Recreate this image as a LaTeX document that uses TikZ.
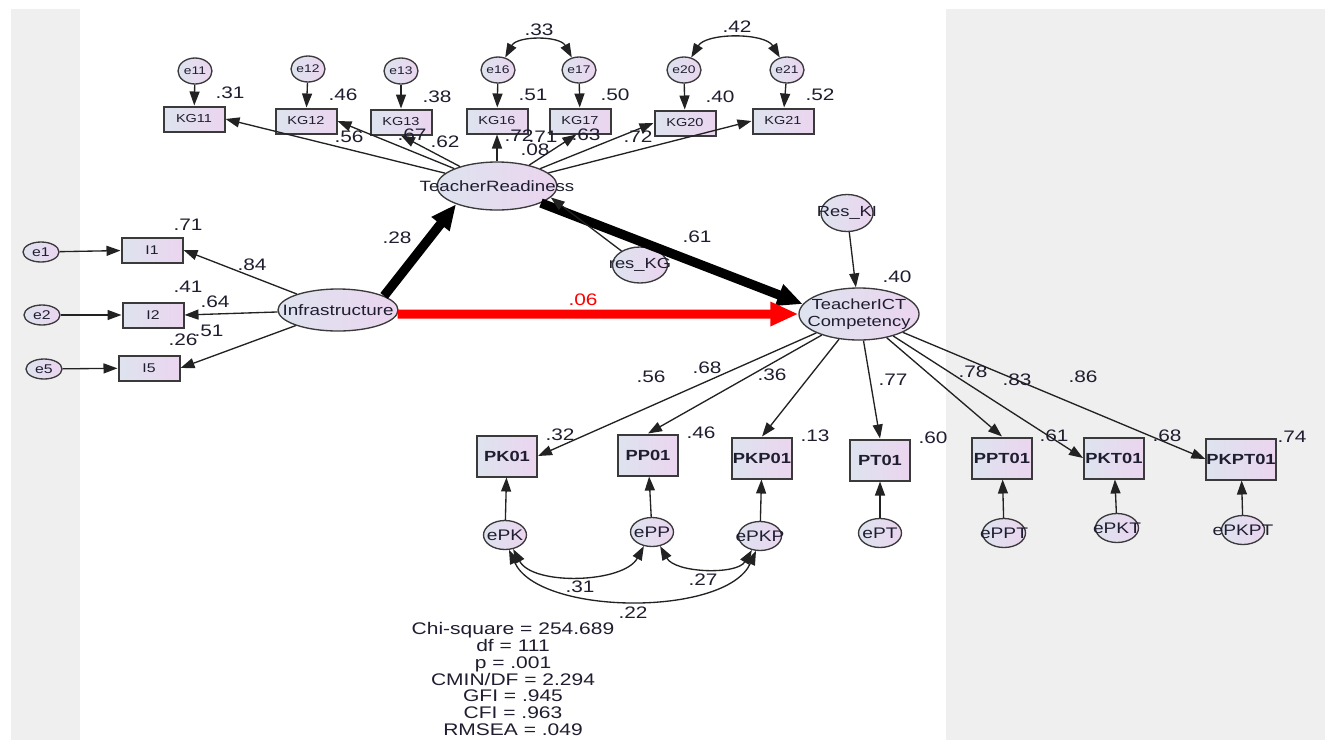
\documentclass[tikz,border=0pt]{standalone}
\usepackage{fontspec}
\setmainfont{Liberation Sans}[FakeStretch=1.25]
\usetikzlibrary{arrows.meta,shapes.geometric}
\definecolor{bgg}{HTML}{EFEFEF}
\definecolor{fillA}{HTML}{DEE3EF}
\definecolor{fillB}{HTML}{EBD5EF}
\definecolor{edgec}{HTML}{3A3A3A}
\definecolor{txt}{HTML}{1E1E30}
\definecolor{ared}{HTML}{FF0000}
\definecolor{linec}{HTML}{222222}
\begin{document}
\begin{tikzpicture}[x=0.75pt,y=-0.75pt,
  obs/.style={draw=edgec,line width=1.5pt,left color=fillA,right color=fillB,rectangle,inner sep=0pt,
    minimum width=45.75pt,minimum height=18.75pt,font=\fontsize{8.7}{9}\selectfont,text=txt},
  obsb/.style={obs,minimum width=45pt,minimum height=30.75pt,font=\fontsize{11}{12}\selectfont\bfseries},
  lat/.style={draw=edgec,line width=1pt,left color=fillA,right color=fillB,ellipse,inner sep=0pt},
  lbl/.style={text=txt,inner sep=0pt},
  etop/.style={lat,minimum width=25.5pt,minimum height=19.5pt,label={[lbl,font=\fontsize{8.3}{9}\selectfont]center:#1}},
  eleft/.style={lat,minimum width=27pt,minimum height=15pt,label={[lbl,font=\fontsize{9.5}{10}\selectfont]center:#1}},
  ebot/.style={lat,minimum width=32.25pt,minimum height=21.75pt,label={[lbl,font=\fontsize{11.5}{12}\selectfont]center:#1}},
  num/.style={text=txt,inner sep=0pt,font=\fontsize{12.5}{13}\selectfont},
  pth/.style={draw=linec,line width=1pt,-{Triangle[length=10.5pt,width=7.5pt]}},
  cov/.style={draw=linec,line width=1pt,{Triangle[length=10.5pt,width=7.5pt]}-{Triangle[length=10.5pt,width=7.5pt]}},
  bigarr/.style={draw=black,line width=7pt,-{Triangle[length=19pt,width=16pt]}},
  redarr/.style={draw=ared,line width=6.75pt,-{Triangle[length=21pt,width=17pt]}}
]
\useasboundingbox (0,0) rectangle (1327,740);
\fill[bgg] (11,9) rectangle (80,740);
\fill[bgg] (946,9) rectangle (1325,740);

% top error terms
\node[etop=e11] (e11) at (195,71) {};
\node[etop=e12] (e12) at (308,69) {};
\node[etop=e13] (e13) at (401,71) {};
\node[etop=e16] (e16) at (498,70) {};
\node[etop=e17] (e17) at (579,70) {};
\node[etop=e20] (e20) at (684,70) {};
\node[etop=e21] (e21) at (787,70) {};
% KG boxes
\node[obs] (KG11) at (194,119) {KG11};
\node[obs] (KG12) at (306,121) {KG12};
\node[obs] (KG13) at (401,122) {KG13};
\node[obs] (KG16) at (497,121) {KG16};
\node[obs] (KG17) at (580,121) {KG17};
\node[obs] (KG20) at (685,123) {KG20};
\node[obs] (KG21) at (783,121) {KG21};
% left
\node[eleft=e1] (e1) at (41,252) {};
\node[eleft=e2] (e2) at (42,315) {};
\node[eleft=e5] (e5) at (44,369) {};
\node[obs,font=\fontsize{9.5}{10}\selectfont] (I1) at (152,250) {I1};
\node[obs,font=\fontsize{9.5}{10}\selectfont] (I2) at (153,315) {I2};
\node[obs,font=\fontsize{9.5}{10}\selectfont] (I5) at (149,368) {I5};
% latents
\node[lat,minimum width=90pt,minimum height=31.5pt,label={[lbl,font=\fontsize{11.3}{12}\selectfont]center:Infrastructure}] (Infra) at (338,310) {};
\node[lat,minimum width=90pt,minimum height=36pt,label={[lbl,font=\fontsize{11.2}{12}\selectfont]center:TeacherReadiness}] (TR) at (497,186) {};
\node[lat,minimum width=90pt,minimum height=39pt,label={[lbl,align=center,font=\fontsize{11}{12.75}\selectfont]center:{TeacherICT\\Competency}}] (TICT) at (859,314) {};
\node[lat,minimum width=41.25pt,minimum height=27pt,label={[lbl,font=\fontsize{11}{12}\selectfont]center:res\_KG}] (resKG) at (640,265) {};
\node[lat,minimum width=39pt,minimum height=27.75pt,label={[lbl,font=\fontsize{11}{12}\selectfont]center:Res\_KI}] (ResKI) at (847,213) {};
% bottom boxes
\node[obsb] (PK01) at (507,456) {PK01};
\node[obsb] (PP01) at (648,455) {PP01};
\node[obsb] (PKP01) at (762,458) {PKP01};
\node[obsb] (PT01) at (880,460) {PT01};
\node[obsb] (PPT01) at (1002,458) {PPT01};
\node[obsb] (PKT01) at (1114,458) {PKT01};
\node[obsb] (PKPT01) at (1241,459) {PKPT01};
% bottom errors
\node[ebot=ePK] (ePK) at (505,535) {};
\node[ebot=ePP] (ePP) at (652,532) {};
\node[ebot=ePKP] (ePKP) at (760,536) {};
\node[ebot=ePT] (ePT) at (880,533) {};
\node[ebot=ePPT] (ePPT) at (1004,533) {};
\node[ebot=ePKT] (ePKT) at (1117,528) {};
\node[ebot=ePKPT] (ePKPT) at (1243,530) {};

% connectors top
\draw[pth] (e11) -- (KG11);
\draw[pth] (e12) -- (KG12);
\draw[pth] (e13) -- (KG13);
\draw[pth] (e16) -- (KG16);
\draw[pth] (e17) -- (KG17);
\draw[pth] (e20) -- (KG20);
\draw[pth] (e21) -- (KG21);
\draw[cov] (e16.60) .. controls +(12,-22) and +(-12,-22) .. (e17.120);
\draw[cov] (e20.60) .. controls +(15,-25) and +(-15,-25) .. (e21.120);
\draw[pth] (TR) -- (KG11.east);
\draw[pth] (TR) -- (KG12.east);
\draw[pth] (TR) -- (KG13.south);
\draw[pth] (TR) -- (KG16.south);
\draw[pth] (TR) -- (KG17.-105);
\draw[pth] (TR) -- (KG20.west);
\draw[pth] (TR) -- (KG21.west);
% left
\draw[pth] (e1) -- (I1);
\draw[pth] (e2) -- (I2);
\draw[pth] (e5) -- (I5);
\draw[pth] (Infra) -- (I1.east);
\draw[pth] (Infra) -- (I2.east);
\draw[pth] (Infra) -- (I5.east);
% structural
\draw[bigarr] (Infra.17) -- (TR.-156);
\draw[bigarr] (TR) -- (TICT.170);
\draw[redarr] (Infra.-4) -- (TICT.west);
\draw[pth] (resKG) -- (TR.-12);
\draw[pth] (ResKI) -- (TICT);
% bottom
\draw[pth] (TICT) -- (PK01.east);
\draw[pth] (TICT) -- (PP01.north);
\draw[pth] (TICT) -- (PKP01.north);
\draw[pth] (TICT) -- (PT01.north);
\draw[pth] (TICT) -- (PPT01.north);
\draw[pth] (TICT) -- (PKT01.west);
\draw[pth] (TICT) -- (PKPT01.west);
\draw[pth] (ePK) -- (PK01);
\draw[pth] (ePP) -- (PP01);
\draw[pth] (ePKP) -- (PKP01);
\draw[pth] (ePT) -- (PT01);
\draw[pth] (ePPT) -- (PPT01);
\draw[pth] (ePKT) -- (PKT01);
\draw[pth] (ePKPT) -- (PKPT01);
\draw[cov] (ePK.-60) .. controls +(20,37) and +(-20,37) .. (ePP.-120);
\draw[cov] (ePP.-60) .. controls +(15,27) and +(-15,25) .. (ePKP.-120);
\draw[cov] (ePK.-75) .. controls +(30,66) and +(-30,66) .. (ePKP.-105);

% numbers
\node[num] (n33) at (539,30) {.33};
\node[num] (n42) at (737,27) {.42};
\node[num] (n31) at (230,93) {.31};
\node[num] (n46) at (343,95) {.46};
\node[num] (n38) at (437,97) {.38};
\node[num] (n51) at (533,95) {.51};
\node[num] (n50) at (615,95) {.50};
\node[num] (n40) at (720,97) {.40};
\node[num] (n52) at (820,95) {.52};
\node[num] (l56) at (349,137) {.56};
\node[num] (l67) at (412,135) {.67};
\node[num] (l62) at (445,142) {.62};
\node[num] (l72a) at (519,136) {.72};
\node[num] (l71) at (543,137) {.71};
\node[num] (l08) at (535,150) {.08};
\node[num] (l63) at (586,135) {.63};
\node[num] (l72b) at (638,137) {.72};
\node[num] (n71) at (188,225) {.71};
\node[num] (n84) at (252,265) {.84};
\node[num] (n41) at (188,287) {.41};
\node[num] (n64) at (215,302) {.64};
\node[num] (n51b) at (209,331) {.51};
\node[num] (n26) at (183,340) {.26};
\node[num] (n28) at (397,238) {.28};
\node[num] (n61) at (697,237) {.61};
\node[num,text=ared] (n06) at (583,300) {.06};
\node[num] (n40b) at (897,277) {.40};
\node[num] (b56) at (651,377) {.56};
\node[num] (b68) at (707,368) {.68};
\node[num] (b36) at (772,375) {.36};
\node[num] (b77) at (893,380) {.77};
\node[num] (b78) at (973,372) {.78};
\node[num] (b83) at (1017,380) {.83};
\node[num] (b86) at (1083,377) {.86};
\node[num] (r32) at (560,435) {.32};
\node[num] (r46) at (701,433) {.46};
\node[num] (r13) at (815,436) {.13};
\node[num] (r60) at (933,438) {.60};
\node[num] (r61) at (1054,436) {.61};
\node[num] (r68) at (1167,436) {.68};
\node[num] (r74) at (1292,437) {.74};
\node[num] (c31) at (580,587) {.31};
\node[num] (c27) at (703,580) {.27};
\node[num] (c22) at (633,613) {.22};
% fit statistics
\node[lbl,align=center,font=\fontsize{12.6}{12.6}\selectfont] (stats) at (513,679)
  {Chi-square = 254.689\\df = 111\\p = .001\\CMIN/DF = 2.294\\GFI = .945\\CFI = .963\\RMSEA = .049};
\end{tikzpicture}
\end{document}
